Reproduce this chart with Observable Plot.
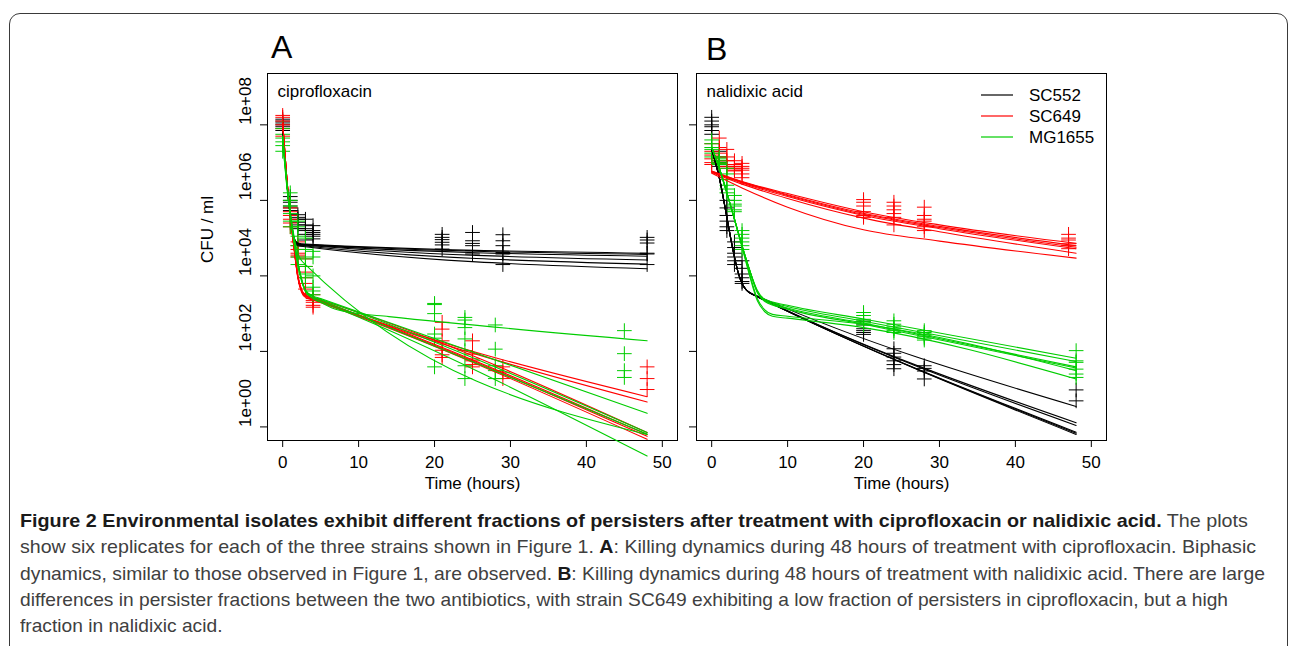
<!DOCTYPE html>
<html>
<head>
<meta charset="utf-8">
<script src="https://cdn.jsdelivr.net/npm/d3@7"></script>
<script src="https://cdn.jsdelivr.net/npm/@observablehq/plot@0.6"></script>
<style>
  html, body { margin: 0; padding: 0; background: #fff; }
  body { width: 1290px; height: 646px; overflow: hidden; position: relative; font-family: "Liberation Sans", Arial, Helvetica, sans-serif; }
  .border { position: absolute; left: 9px; top: 13px; width: 1279px; height: 720px; border: 1.5px solid #3a3a3a; border-radius: 11px; box-sizing: border-box; }
  .panel { position: absolute; top: 20px; }
  .panel svg { display: block; }
  #overlay { position: absolute; left: 0; top: 0; }
  #caption { position: absolute; left: 20px; top: 508px; color: #404040; font-family: "Liberation Sans", Arial, sans-serif; font-size: 19px; line-height: 26.3px; }
  #caption .ln { white-space: nowrap; transform-origin: 0 50%; width: max-content; }
  #caption b { color: #1a1a1a; }
</style>
</head>
<body>
<div class="border"></div>
<div id="panelA" class="panel" style="left:150px;width:530px"></div>
<div id="panelB" class="panel" style="left:680px;width:430px"></div>
<svg id="overlay" width="1290" height="646" font-family="Liberation Sans, Arial, Helvetica, sans-serif">
  <text x="271" y="58" font-size="32">A</text>
  <text x="706" y="60" font-size="32">B</text>
  <g id="legend" font-size="17"></g>
</svg>
<div id="caption">
  <div class="ln"><b>Figure 2 Environmental isolates exhibit different fractions of persisters after treatment with ciprofloxacin or nalidixic acid.</b> The plots</div>
  <div class="ln">show six replicates for each of the three strains shown in Figure 1. <b>A</b>: Killing dynamics during 48 hours of treatment with ciprofloxacin. Biphasic</div>
  <div class="ln">dynamics, similar to those observed in Figure 1, are observed. <b>B</b>: Killing dynamics during 48 hours of treatment with nalidixic acid. There are large</div>
  <div class="ln">differences in persister fractions between the two antibiotics, with strain SC649 exhibiting a low fraction of persisters in ciprofloxacin, but a high</div>
  <div class="ln">fraction in nalidixic acid.</div>
</div>
<script>
// ---------- categories, colours, ticks ----------
const strains = ["SC552", "SC649", "MG1655"];
const strainColors = ["#000000", "#ff0000", "#00cd00"];
const panelTitles = ["ciprofloxacin", "nalidixic acid"];
const xTicks = [0, 10, 20, 30, 40, 50];
const yTicks = [1, 1e2, 1e4, 1e6, 1e8];
const yTickLabels = ["1e+00", "1e+02", "1e+04", "1e+06", "1e+08"];

// ---------- measured points: [time (h), [log10 CFU/ml of replicates]] ----------
const ciproSC552Points = [
  [0, [7.85, 7.95, 8.0, 8.05, 8.1, 8.15]],
  [1, [6.1, 6.0, 5.95, 5.85, 5.8, 5.73]],
  [2, [5.62, 5.55, 5.5, 5.42, 5.35, 5.25]],
  [3, [5.5, 5.35, 5.25, 5.2, 5.1, 4.95]],
  [4, [5.33, 5.2, 5.15, 5.1, 5.05, 4.98]],
  [21, [5.1, 5.02, 4.96, 4.89, 4.82, 4.71]],
  [25, [5.15, 4.93, 4.86, 4.8, 4.67, 4.58]],
  [29, [5.09, 4.93, 4.8, 4.62, 4.58, 4.3]],
  [48, [5.02, 4.95, 4.87, 4.6, 4.58, 4.3]]
];
const ciproSC649Points = [
  [0, [7.7, 7.9, 8.0, 8.1, 8.2, 8.25]],
  [1, [5.8, 5.7, 5.6, 5.5, 5.4, 5.3]],
  [2, [4.9, 4.8, 4.7, 4.6, 4.55, 4.5]],
  [3, [4.45, 4.25, 4.1, 3.95, 3.8, 3.65]],
  [4, [3.5, 3.4, 3.35, 3.3, 3.22, 3.17]],
  [21, [2.77, 2.59, 2.28, 2.03, 1.91, 1.84]],
  [25, [2.28, 1.93, 1.8, 1.75, 1.65, 1.59]],
  [29, [1.59, 1.45, 1.28]],
  [48, [1.59, 1.28, 0.99]]
];
const ciproMG1655Points = [
  [0, [7.3, 7.45, 7.55, 7.65, 7.75, 7.9]],
  [1, [6.2, 6.0, 5.85, 5.65, 5.45, 5.3]],
  [2, [5.45, 5.3, 5.05, 4.8, 4.5, 4.3]],
  [3, [5.0, 4.7, 4.45, 4.25, 4.05, 3.95]],
  [4, [4.65, 4.5, 4.0, 3.7, 3.6, 3.5]],
  [20, [3.27, 3.24, 3.0, 2.46, 2.35, 1.59]],
  [24, [2.9, 2.83, 2.63, 2.33, 2.02, 1.62, 1.28]],
  [28, [2.7, 2.06, 1.62, 1.49, 1.28]],
  [45, [2.55, 1.94, 1.49, 1.31]]
];
const nalSC552Points = [
  [0, [8.2, 8.1, 8.0, 7.95, 7.85, 7.75]],
  [1, [7.3, 7.15, 7.05, 7.0, 6.95, 6.9]],
  [2, [6.0, 5.8, 5.6, 5.45, 5.3, 5.2]],
  [3, [4.9, 4.75, 4.6, 4.5, 4.4, 4.3]],
  [4, [4.4, 4.2, 4.05, 3.95, 3.85, 3.8]],
  [20, [2.8, 2.7, 2.6, 2.55, 2.5, 2.45]],
  [24, [2.07, 1.95, 1.85, 1.75, 1.65, 1.54]],
  [28, [1.62, 1.55, 1.48, 1.27]],
  [48, [0.98, 0.69]]
];
const nalSC649Points = [
  [0, [7.5, 7.3, 7.2, 7.1, 7.0, 6.95]],
  [1, [7.65, 7.4, 7.25, 7.15, 7.05, 6.97]],
  [2, [7.35, 7.15, 7.05, 6.95, 6.9, 6.85]],
  [3, [7.05, 6.95, 6.9, 6.85, 6.8, 6.78]],
  [4, [6.98, 6.9, 6.85, 6.8, 6.7, 6.6]],
  [20, [6.02, 5.95, 5.85, 5.7, 5.6, 5.55]],
  [24, [5.95, 5.85, 5.75, 5.65, 5.55, 5.35]],
  [28, [5.82, 5.6, 5.5, 5.45, 5.3, 5.2]],
  [47, [5.1, 5.0, 4.95, 4.85, 4.8, 4.72]]
];
const nalMG1655Points = [
  [0, [7.6, 7.5, 7.4, 7.35, 7.25, 7.15]],
  [1, [7.15, 7.1, 7.05, 7.0, 6.97, 6.95]],
  [2, [6.85, 6.7, 6.55, 6.4, 6.3, 6.2]],
  [3, [6.13, 6.0, 5.9, 5.85, 5.75, 5.7]],
  [4, [5.2, 5.1, 5.0, 4.9, 4.8, 4.7]],
  [20, [3.03, 2.95, 2.85, 2.8, 2.75, 2.7]],
  [24, [2.81, 2.72, 2.65, 2.6, 2.55, 2.5]],
  [28, [2.55, 2.5, 2.45, 2.4, 2.35, 2.3]],
  [48, [2.02, 1.75, 1.71, 1.53, 1.4, 1.31]]
];

// ---------- fitted curves: [time (h), log10 CFU/ml] ----------
const ciproSC552Fits = [
  [[0, 7.95], [0.5, 6.6], [1, 5.6], [1.5, 5.0], [2, 4.87], [3, 4.84], [48, 4.60]],
  [[0, 7.95], [0.5, 6.6], [1, 5.6], [1.5, 5.0], [2, 4.86], [3, 4.83], [48, 4.57]],
  [[0, 7.95], [0.5, 6.6], [1, 5.6], [1.5, 4.99], [2, 4.85], [3, 4.82], [48, 4.52]],
  [[0, 7.95], [0.5, 6.6], [1, 5.6], [1.5, 4.98], [2, 4.84], [3, 4.81], [48, 4.42]],
  [[0, 7.95], [0.5, 6.6], [1, 5.6], [1.5, 4.97], [2, 4.82], [3, 4.79], [48, 4.31]],
  [[0, 7.95], [0.5, 6.6], [1, 5.6], [1.5, 4.96], [2, 4.80], [3, 4.77], [48, 4.19]]
];
const ciproSC649Fits = [
  [[0, 8.05], [0.5, 6.7], [1, 5.6], [1.5, 4.75], [2, 4.0], [2.5, 3.63], [3, 3.5], [4, 3.42], [48, 0.80]],
  [[0, 8.05], [0.5, 6.7], [1, 5.6], [1.5, 4.75], [2, 4.0], [2.5, 3.62], [3, 3.49], [4, 3.41], [48, 0.66]],
  [[0, 8.05], [0.5, 6.7], [1, 5.6], [1.5, 4.74], [2, 3.98], [2.5, 3.61], [3, 3.48], [4, 3.42], [48, -0.15]],
  [[0, 8.05], [0.5, 6.7], [1, 5.6], [1.5, 4.74], [2, 3.97], [2.5, 3.6], [3, 3.47], [4, 3.40], [48, -0.20]],
  [[0, 8.05], [0.5, 6.7], [1, 5.6], [1.5, 4.73], [2, 3.96], [2.5, 3.58], [3, 3.45], [4, 3.38], [48, -0.25]],
  [[0, 8.05], [0.5, 6.7], [1, 5.6], [1.5, 4.72], [2, 3.94], [2.5, 3.56], [3, 3.43], [4, 3.36], [48, -0.33]]
];
const ciproMG1655Fits = [
  [[0, 7.6], [0.5, 6.5], [1, 5.65], [1.5, 5.05], [2, 4.6], [2.5, 4.4], [3, 4.3], [48, -0.20]],
  [[0, 7.55], [0.5, 6.45], [1, 5.55], [1.5, 4.85], [2, 4.25], [2.5, 3.85], [3, 3.6], [4, 3.4], [5, 3.3], [6.5, 3.15], [9, 3.03], [14, 2.92], [48, 2.28]],
  [[0, 7.7], [0.5, 6.55], [1, 5.65], [1.5, 4.95], [2, 4.35], [2.5, 3.9], [3, 3.62], [4, 3.47], [5, 3.4], [48, 0.36]],
  [[0, 7.7], [0.5, 6.55], [1, 5.65], [1.5, 4.95], [2, 4.35], [2.5, 3.9], [3, 3.62], [4, 3.45], [5, 3.38], [48, -0.15]],
  [[0, 7.7], [0.5, 6.55], [1, 5.65], [1.5, 4.95], [2, 4.35], [2.5, 3.9], [3, 3.61], [4, 3.44], [5, 3.36], [48, -0.19]],
  [[0, 7.7], [0.5, 6.55], [1, 5.65], [1.5, 4.95], [2, 4.34], [2.5, 3.88], [3, 3.58], [4, 3.40], [5, 3.32], [48, -0.77]]
];
const nalSC552Fits = [
  [[0, 7.35], [0.5, 7.0], [1, 6.6], [1.5, 6.1], [2, 5.55], [2.5, 5.0], [3, 4.5], [3.5, 4.08], [4, 3.8], [4.5, 3.64], [5, 3.56], [6, 3.47], [48, 0.54]],
  [[0, 7.35], [0.5, 7.0], [1, 6.6], [1.5, 6.1], [2, 5.55], [2.5, 5.0], [3, 4.5], [3.5, 4.08], [4, 3.8], [4.5, 3.64], [5, 3.56], [6, 3.46], [48, 0.11]],
  [[0, 7.35], [0.5, 7.0], [1, 6.6], [1.5, 6.1], [2, 5.55], [2.5, 5.0], [3, 4.5], [3.5, 4.08], [4, 3.8], [4.5, 3.64], [5, 3.56], [6, 3.46], [48, 0.04]],
  [[0, 7.35], [0.5, 7.0], [1, 6.6], [1.5, 6.1], [2, 5.55], [2.5, 5.0], [3, 4.5], [3.5, 4.08], [4, 3.8], [4.5, 3.64], [5, 3.55], [6, 3.45], [48, -0.14]],
  [[0, 7.35], [0.5, 7.0], [1, 6.6], [1.5, 6.1], [2, 5.55], [2.5, 5.0], [3, 4.5], [3.5, 4.08], [4, 3.8], [4.5, 3.64], [5, 3.55], [6, 3.45], [48, -0.17]],
  [[0, 7.35], [0.5, 7.0], [1, 6.6], [1.5, 6.1], [2, 5.55], [2.5, 5.0], [3, 4.5], [3.5, 4.08], [4, 3.8], [4.5, 3.64], [5, 3.55], [6, 3.45], [48, -0.20]]
];
const nalSC649Fits = [
  [[0, 6.78], [4, 6.5], [10, 6.18], [20, 5.7], [30, 5.35], [48, 4.86]],
  [[0, 6.77], [4, 6.49], [10, 6.15], [20, 5.66], [30, 5.31], [48, 4.80]],
  [[0, 6.76], [4, 6.48], [10, 6.13], [20, 5.63], [30, 5.28], [48, 4.76]],
  [[0, 6.75], [4, 6.46], [10, 6.1], [20, 5.6], [30, 5.25], [48, 4.72]],
  [[0, 6.74], [4, 6.43], [10, 6.05], [20, 5.53], [30, 5.17], [48, 4.60]],
  [[0, 6.72], [4, 6.33], [10, 5.82], [20, 5.22], [30, 4.92], [48, 4.47]]
];
const nalMG1655Fits = [
  [[0, 7.4], [1, 6.85], [2, 6.2], [3, 5.5], [4, 4.8], [5, 4.15], [6, 3.62], [7, 3.38], [10, 3.22], [20, 2.86], [48, 1.82]],
  [[0, 7.4], [1, 6.85], [2, 6.2], [3, 5.5], [4, 4.8], [5, 4.15], [6, 3.6], [7, 3.36], [10, 3.19], [20, 2.8], [48, 1.73]],
  [[0, 7.4], [1, 6.85], [2, 6.2], [3, 5.5], [4, 4.8], [5, 4.15], [6, 3.58], [7, 3.34], [10, 3.15], [20, 2.75], [48, 1.59]],
  [[0, 7.4], [1, 6.85], [2, 6.2], [3, 5.5], [4, 4.8], [5, 4.15], [6, 3.56], [7, 3.32], [10, 3.12], [20, 2.72], [48, 1.56]],
  [[0, 7.4], [1, 6.85], [2, 6.2], [3, 5.5], [4, 4.78], [5, 4.05], [6, 3.4], [7, 3.1], [8, 2.98], [10, 2.93], [20, 2.72], [48, 1.49]],
  [[0, 7.4], [1, 6.85], [2, 6.2], [3, 5.5], [4, 4.76], [5, 4.0], [6, 3.35], [7, 3.05], [8, 2.93], [10, 2.88], [20, 2.63], [48, 1.27]]
];

// ---------- build tables ----------
function pointRows(sets) {
  return sets.flatMap((pts, s) => pts.flatMap(([t, vals]) => vals.map(v => ({t, cfu: 10 ** v, strain: strains[s]}))));
}
function fitRows(sets) {
  return sets.flatMap((fits, s) => fits.flatMap((curve, i) => curve.map(([t, v]) => ({t, cfu: 10 ** v, strain: strains[s], id: strains[s] + "-" + i}))));
}

function makePanel(title, pts, fits, showYLabels, width, marginLeft, marginRight) {
  const marks = [
    Plot.frame({stroke: "black", strokeWidth: 1}),
    Plot.dot(pointRows(pts), {x: "t", y: "cfu", stroke: "strain", symbol: "plus", r: 4.8, strokeWidth: 1}),
    Plot.line(fitRows(fits), {x: "t", y: "cfu", z: "id", stroke: "strain", strokeWidth: 1.1, curve: "monotone-x"}),
    Plot.text([title], {frameAnchor: "top-left", dx: 10, dy: 11, lineAnchor: "top", textAnchor: "start", fontSize: 17}),
    Plot.text(["Time (hours)"], {frameAnchor: "bottom", dy: 48, fontSize: 17})
  ];
  if (showYLabels) {
    marks.push(Plot.text(yTicks, {y: d => d, text: (d, i) => yTickLabels[i], frameAnchor: "left", dx: -22, rotate: -90, fontSize: 17}));
    marks.push(Plot.text(["CFU / ml"], {frameAnchor: "left", dx: -60, dy: 6, rotate: -90, fontSize: 17}));
  }
  return Plot.plot({
    width, height: 490,
    marginLeft, marginRight, marginTop: 53, marginBottom: 70,
    style: {background: "transparent", fontFamily: "Liberation Sans, Arial, Helvetica, sans-serif", fontSize: "17px", color: "black", overflow: "visible"},
    x: {domain: [-2, 52], ticks: xTicks, tickSize: 7, tickPadding: 8, label: null},
    y: {type: "log", domain: [10 ** -0.36, 10 ** 9.36], ticks: yTicks, tickSize: 7, tickFormat: () => "", label: null},
    color: {domain: strains, range: strainColors},
    marks
  });
}

document.getElementById("panelA").append(
  makePanel(panelTitles[0], [ciproSC552Points, ciproSC649Points, ciproMG1655Points],
            [ciproSC552Fits, ciproSC649Fits, ciproMG1655Fits], true, 530, 117, 3));
document.getElementById("panelB").append(
  makePanel(panelTitles[1], [nalSC552Points, nalSC649Points, nalMG1655Points],
            [nalSC552Fits, nalSC649Fits, nalMG1655Fits], false, 430, 16, 4));

// ---------- legend ----------
const legend = d3.select("#legend");
strains.forEach((s, i) => {
  const y = 95 + i * 21;
  legend.append("line").attr("x1", 981).attr("x2", 1013).attr("y1", y).attr("y2", y)
    .attr("stroke", strainColors[i]).attr("stroke-width", 1.2);
  legend.append("text").attr("x", 1029).attr("y", y + 6).text(s);
});

// ---------- fit each caption line to the reference line width ----------
const captionLineWidths = [1228, 1236, 1245, 1208];
function fitCaption() {
  const lines = document.querySelectorAll("#caption .ln");
  let k = 1;
  lines.forEach((l, i) => {
    l.style.transform = "none";
    const w = l.getBoundingClientRect().width;
    if (i < captionLineWidths.length && w > 0) k = captionLineWidths[i] / w;
    l.style.transform = "scaleX(" + k.toFixed(4) + ")";
  });
}
fitCaption();
if (document.fonts && document.fonts.ready) document.fonts.ready.then(fitCaption);
</script>
</body>
</html>
